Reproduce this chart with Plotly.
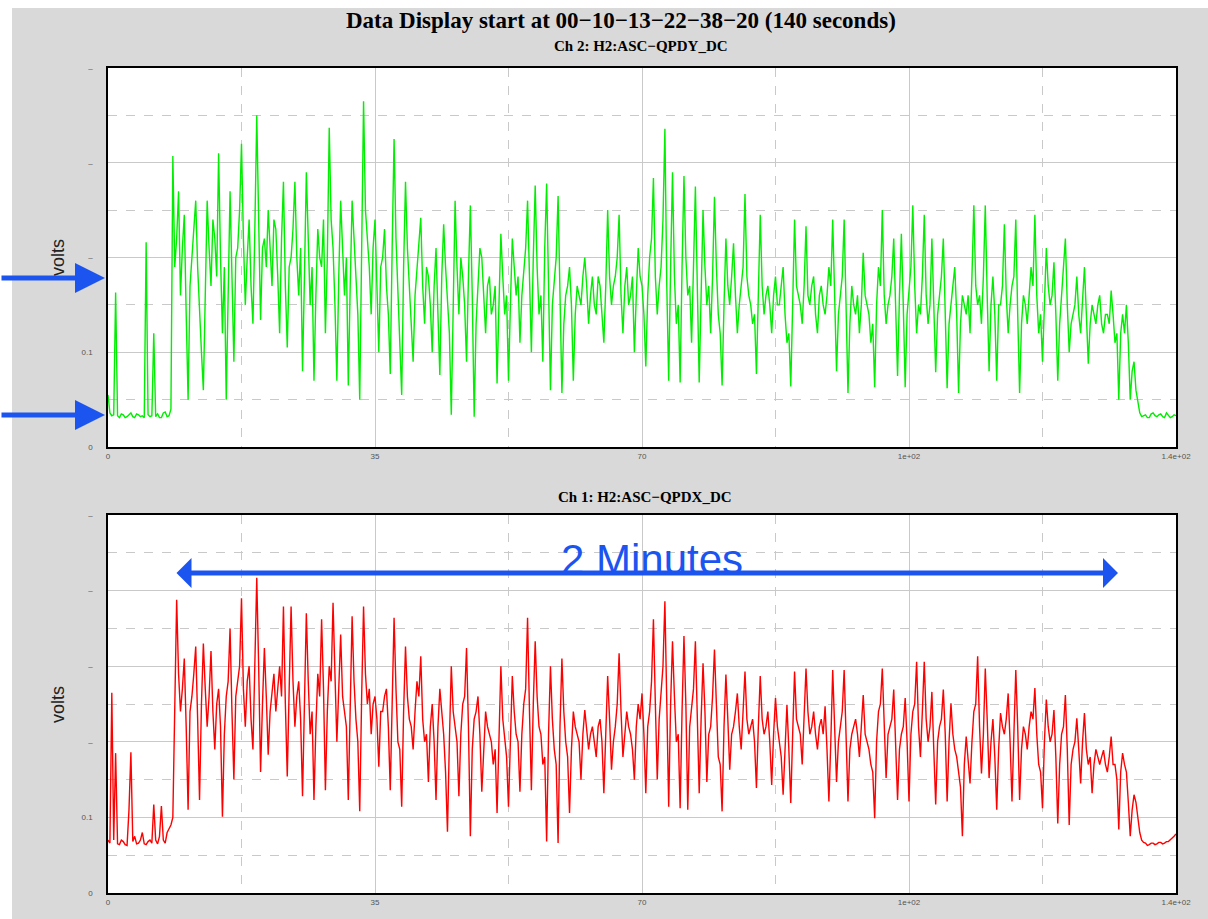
import plotly.graph_objects as go

# ---------------- data ----------------
SAMPLE_STEP_S = 0.25

ch2_qpdy_volts = [
    0.055, 0.036, 0.033, 0.034, 0.163, 0.033, 0.031, 0.035, 0.034, 0.031, 0.032, 0.034, 0.036, 0.032, 0.031, 0.035, 0.034, 0.032, 0.033, 0.031,
    0.216, 0.034, 0.032, 0.033, 0.120, 0.032, 0.035, 0.031, 0.031, 0.036, 0.037, 0.032, 0.033, 0.040, 0.307, 0.19, 0.22, 0.27, 0.16, 0.21,
    0.245, 0.14, 0.05, 0.17, 0.20, 0.23, 0.26, 0.19, 0.14, 0.10, 0.06, 0.18, 0.26, 0.21, 0.17, 0.24, 0.22, 0.18, 0.31, 0.20,
    0.12, 0.19, 0.05, 0.16, 0.27, 0.18, 0.09, 0.20, 0.21, 0.25, 0.32, 0.22, 0.15, 0.20, 0.24, 0.17, 0.13, 0.23, 0.35, 0.24,
    0.134, 0.21, 0.22, 0.19, 0.25, 0.21, 0.17, 0.24, 0.23, 0.18, 0.12, 0.22, 0.28, 0.17, 0.105, 0.19, 0.20, 0.23, 0.28, 0.20,
    0.16, 0.21, 0.08, 0.18, 0.29, 0.22, 0.15, 0.19, 0.07, 0.16, 0.23, 0.20, 0.19, 0.24, 0.12, 0.20, 0.337, 0.24, 0.21, 0.15,
    0.07, 0.18, 0.26, 0.21, 0.16, 0.20, 0.065, 0.17, 0.26, 0.22, 0.18, 0.14, 0.05, 0.20, 0.365, 0.25, 0.22, 0.19, 0.14, 0.21,
    0.24, 0.18, 0.10, 0.19, 0.20, 0.23, 0.17, 0.14, 0.077, 0.21, 0.325, 0.22, 0.16, 0.12, 0.055, 0.19, 0.28, 0.21, 0.17, 0.14,
    0.09, 0.16, 0.19, 0.21, 0.242, 0.17, 0.13, 0.19, 0.18, 0.15, 0.10, 0.17, 0.21, 0.14, 0.076, 0.18, 0.235, 0.19, 0.15, 0.12,
    0.034, 0.17, 0.26, 0.19, 0.14, 0.20, 0.18, 0.15, 0.09, 0.18, 0.255, 0.16, 0.032, 0.13, 0.17, 0.21, 0.20, 0.16, 0.12, 0.17,
    0.18, 0.14, 0.15, 0.17, 0.067, 0.15, 0.225, 0.18, 0.14, 0.16, 0.07, 0.15, 0.22, 0.19, 0.16, 0.18, 0.11, 0.16, 0.19, 0.21,
    0.26, 0.18, 0.10, 0.20, 0.276, 0.19, 0.14, 0.16, 0.09, 0.21, 0.278, 0.17, 0.06, 0.15, 0.18, 0.20, 0.265, 0.16, 0.057, 0.13,
    0.16, 0.17, 0.19, 0.15, 0.07, 0.14, 0.17, 0.16, 0.15, 0.18, 0.20, 0.17, 0.13, 0.16, 0.18, 0.15, 0.14, 0.18, 0.17, 0.14,
    0.11, 0.17, 0.25, 0.18, 0.15, 0.17, 0.18, 0.20, 0.245, 0.16, 0.12, 0.17, 0.19, 0.15, 0.16, 0.18, 0.10, 0.16, 0.21, 0.18,
    0.17, 0.14, 0.085, 0.16, 0.20, 0.22, 0.284, 0.18, 0.14, 0.17, 0.19, 0.24, 0.336, 0.17, 0.07, 0.19, 0.29, 0.18, 0.13, 0.15,
    0.068, 0.19, 0.286, 0.20, 0.16, 0.17, 0.11, 0.19, 0.275, 0.17, 0.068, 0.16, 0.25, 0.19, 0.15, 0.17, 0.12, 0.18, 0.264, 0.19,
    0.14, 0.12, 0.065, 0.15, 0.22, 0.17, 0.15, 0.18, 0.215, 0.16, 0.12, 0.15, 0.17, 0.19, 0.267, 0.18, 0.16, 0.15, 0.13, 0.14,
    0.077, 0.16, 0.245, 0.17, 0.14, 0.16, 0.17, 0.15, 0.12, 0.16, 0.18, 0.15, 0.15, 0.17, 0.19, 0.14, 0.11, 0.12, 0.064, 0.15,
    0.24, 0.17, 0.16, 0.15, 0.13, 0.17, 0.233, 0.16, 0.15, 0.17, 0.18, 0.14, 0.12, 0.16, 0.17, 0.15, 0.14, 0.16, 0.19, 0.17,
    0.24, 0.15, 0.08, 0.14, 0.16, 0.18, 0.24, 0.15, 0.057, 0.13, 0.17, 0.15, 0.14, 0.16, 0.12, 0.15, 0.205, 0.16, 0.15, 0.14,
    0.11, 0.13, 0.063, 0.15, 0.19, 0.17, 0.25, 0.16, 0.13, 0.15, 0.16, 0.18, 0.22, 0.14, 0.075, 0.16, 0.225, 0.15, 0.063, 0.14,
    0.17, 0.19, 0.255, 0.17, 0.12, 0.15, 0.14, 0.18, 0.245, 0.16, 0.13, 0.15, 0.22, 0.16, 0.079, 0.14, 0.16, 0.18, 0.22, 0.15,
    0.062, 0.13, 0.15, 0.17, 0.19, 0.14, 0.057, 0.13, 0.16, 0.15, 0.14, 0.16, 0.12, 0.18, 0.255, 0.17, 0.15, 0.16, 0.13, 0.18,
    0.255, 0.16, 0.08, 0.15, 0.18, 0.14, 0.07, 0.15, 0.15, 0.17, 0.235, 0.16, 0.12, 0.15, 0.17, 0.18, 0.24, 0.14, 0.057, 0.13,
    0.16, 0.15, 0.13, 0.16, 0.19, 0.17, 0.245, 0.16, 0.12, 0.14, 0.09, 0.15, 0.21, 0.17, 0.15, 0.16, 0.195, 0.14, 0.07, 0.13,
    0.16, 0.18, 0.22, 0.15, 0.10, 0.13, 0.14, 0.15, 0.18, 0.14, 0.12, 0.15, 0.19, 0.14, 0.088, 0.13, 0.15, 0.14, 0.13, 0.15,
    0.16, 0.13, 0.12, 0.14, 0.14, 0.13, 0.165, 0.14, 0.11, 0.12, 0.05, 0.12, 0.14, 0.12, 0.15, 0.11, 0.05, 0.08, 0.09, 0.06,
    0.048, 0.036, 0.032, 0.033, 0.034, 0.031, 0.031, 0.035, 0.036, 0.033, 0.032, 0.034, 0.035, 0.032, 0.031, 0.036, 0.034, 0.031, 0.032, 0.034,
    0.033,
]

ch1_qpdx_volts = [
    0.07, 0.066, 0.265, 0.07, 0.185, 0.065, 0.064, 0.07, 0.068, 0.064, 0.063, 0.11, 0.186, 0.068, 0.075, 0.065, 0.066, 0.07, 0.08, 0.065,
    0.064, 0.068, 0.07, 0.066, 0.117, 0.07, 0.065, 0.075, 0.115, 0.07, 0.066, 0.08, 0.085, 0.09, 0.10, 0.25, 0.388, 0.29, 0.24, 0.27,
    0.31, 0.22, 0.11, 0.24, 0.26, 0.29, 0.326, 0.23, 0.123, 0.25, 0.33, 0.27, 0.22, 0.26, 0.32, 0.24, 0.19, 0.25, 0.27, 0.22,
    0.101, 0.21, 0.26, 0.28, 0.35, 0.24, 0.15, 0.26, 0.28, 0.30, 0.39, 0.27, 0.22, 0.28, 0.30, 0.23, 0.19, 0.29, 0.417, 0.30,
    0.16, 0.25, 0.324, 0.26, 0.183, 0.24, 0.27, 0.29, 0.24, 0.27, 0.30, 0.26, 0.379, 0.25, 0.154, 0.27, 0.379, 0.28, 0.22, 0.26,
    0.28, 0.23, 0.128, 0.25, 0.37, 0.28, 0.21, 0.24, 0.123, 0.22, 0.29, 0.26, 0.362, 0.27, 0.136, 0.24, 0.30, 0.28, 0.384, 0.29,
    0.20, 0.27, 0.342, 0.26, 0.24, 0.22, 0.123, 0.25, 0.366, 0.28, 0.23, 0.20, 0.108, 0.26, 0.379, 0.29, 0.25, 0.27, 0.21, 0.25,
    0.26, 0.23, 0.167, 0.24, 0.24, 0.26, 0.27, 0.22, 0.136, 0.25, 0.364, 0.27, 0.20, 0.19, 0.114, 0.24, 0.326, 0.26, 0.23, 0.22,
    0.19, 0.24, 0.28, 0.26, 0.313, 0.23, 0.20, 0.21, 0.147, 0.22, 0.25, 0.20, 0.123, 0.22, 0.27, 0.24, 0.21, 0.16, 0.081, 0.20,
    0.30, 0.24, 0.22, 0.20, 0.128, 0.21, 0.25, 0.26, 0.324, 0.22, 0.075, 0.19, 0.23, 0.24, 0.26, 0.21, 0.134, 0.20, 0.24, 0.22,
    0.21, 0.20, 0.17, 0.19, 0.106, 0.21, 0.30, 0.23, 0.20, 0.18, 0.114, 0.22, 0.287, 0.24, 0.21, 0.20, 0.134, 0.21, 0.25, 0.27,
    0.364, 0.24, 0.136, 0.25, 0.333, 0.26, 0.22, 0.21, 0.17, 0.18, 0.068, 0.21, 0.30, 0.23, 0.19, 0.17, 0.066, 0.22, 0.31, 0.24,
    0.20, 0.18, 0.106, 0.19, 0.24, 0.22, 0.21, 0.20, 0.15, 0.21, 0.242, 0.22, 0.19, 0.21, 0.22, 0.20, 0.18, 0.22, 0.23, 0.20,
    0.132, 0.21, 0.287, 0.23, 0.163, 0.20, 0.22, 0.25, 0.317, 0.24, 0.18, 0.21, 0.24, 0.22, 0.21, 0.19, 0.15, 0.22, 0.25, 0.23,
    0.264, 0.21, 0.132, 0.22, 0.24, 0.28, 0.362, 0.25, 0.15, 0.23, 0.27, 0.30, 0.386, 0.24, 0.114, 0.25, 0.333, 0.26, 0.20, 0.21,
    0.112, 0.24, 0.34, 0.25, 0.11, 0.22, 0.25, 0.27, 0.333, 0.24, 0.132, 0.23, 0.304, 0.24, 0.147, 0.21, 0.22, 0.26, 0.322, 0.25,
    0.18, 0.17, 0.108, 0.22, 0.289, 0.23, 0.163, 0.21, 0.22, 0.24, 0.264, 0.22, 0.19, 0.24, 0.293, 0.23, 0.21, 0.22, 0.23, 0.20,
    0.139, 0.22, 0.287, 0.23, 0.21, 0.22, 0.24, 0.20, 0.143, 0.21, 0.258, 0.22, 0.20, 0.18, 0.13, 0.20, 0.249, 0.19, 0.119, 0.21,
    0.293, 0.23, 0.22, 0.21, 0.17, 0.23, 0.297, 0.24, 0.21, 0.22, 0.24, 0.21, 0.19, 0.22, 0.23, 0.21, 0.247, 0.19, 0.121, 0.20,
    0.295, 0.22, 0.147, 0.20, 0.22, 0.24, 0.295, 0.21, 0.121, 0.19, 0.21, 0.22, 0.23, 0.21, 0.18, 0.22, 0.262, 0.21, 0.20, 0.19,
    0.17, 0.16, 0.099, 0.20, 0.24, 0.25, 0.297, 0.22, 0.152, 0.21, 0.22, 0.23, 0.269, 0.20, 0.123, 0.19, 0.21, 0.22, 0.258, 0.20,
    0.121, 0.21, 0.24, 0.25, 0.306, 0.22, 0.18, 0.24, 0.306, 0.23, 0.20, 0.22, 0.266, 0.19, 0.117, 0.20, 0.22, 0.23, 0.269, 0.21,
    0.121, 0.20, 0.251, 0.21, 0.19, 0.18, 0.16, 0.14, 0.075, 0.17, 0.207, 0.18, 0.145, 0.20, 0.24, 0.25, 0.313, 0.22, 0.158, 0.21,
    0.297, 0.23, 0.152, 0.20, 0.23, 0.18, 0.11, 0.19, 0.238, 0.22, 0.21, 0.23, 0.264, 0.20, 0.121, 0.21, 0.295, 0.22, 0.123, 0.19,
    0.22, 0.21, 0.19, 0.22, 0.24, 0.23, 0.271, 0.21, 0.17, 0.16, 0.112, 0.20, 0.256, 0.22, 0.20, 0.21, 0.242, 0.18, 0.092, 0.17,
    0.21, 0.22, 0.262, 0.19, 0.09, 0.17, 0.19, 0.20, 0.231, 0.19, 0.145, 0.20, 0.238, 0.19, 0.17, 0.18, 0.132, 0.17, 0.19, 0.18,
    0.17, 0.18, 0.189, 0.17, 0.16, 0.18, 0.207, 0.17, 0.17, 0.15, 0.084, 0.16, 0.185, 0.17, 0.16, 0.12, 0.075, 0.11, 0.13, 0.12,
    0.10, 0.08, 0.07, 0.067, 0.066, 0.063, 0.064, 0.066, 0.066, 0.064, 0.065, 0.067, 0.067, 0.065, 0.066, 0.068, 0.068, 0.07, 0.072, 0.075,
    0.078,
]

x_tick_values = [0, 35, 70, 105, 140]
x_tick_labels = ["0", "35", "70", "1e+02", "1.4e+02"]
top_y_tick_values = [0, 0.1, 0.2, 0.3, 0.4]
top_y_tick_labels = ["0", "0.1", "\u2013", "\u2013", "\u2013"]
bottom_y_tick_values = [0, 0.1, 0.2, 0.3, 0.4, 0.5]
bottom_y_tick_labels = ["0", "0.1", "\u2013", "\u2013", "\u2013", "\u2013"]

main_title = "Data Display start at 00\u221210\u221213\u221222\u221238\u221220 (140 seconds)"
top_title = "Ch 2: H2:ASC\u2212QPDY_DC"
bottom_title = "Ch 1: H2:ASC\u2212QPDX_DC"
annotation_text = "2 Minutes"

time_top = [i * SAMPLE_STEP_S for i in range(len(ch2_qpdy_volts))]
time_bottom = [i * SAMPLE_STEP_S for i in range(len(ch1_qpdx_volts))]

# ---------------- layout helpers ----------------
W, H = 1208, 919
def px(x):
    return x / W
def py(y):
    return 1 - y / H

GREY = "#d9d9d9"
BLUE = "rgb(28,84,240)"
GRID = "#c9c9c9"

fig = go.Figure()
fig.add_trace(go.Scatter(x=time_top, y=ch2_qpdy_volts, mode="lines",
                         line=dict(color="#00ee00", width=1.4),
                         xaxis="x", yaxis="y", showlegend=False))
fig.add_trace(go.Scatter(x=time_bottom, y=ch1_qpdx_volts, mode="lines",
                         line=dict(color="#ff0000", width=1.4),
                         xaxis="x2", yaxis="y2", showlegend=False))

def xaxis_style(domain, anchor):
    return dict(domain=domain, anchor=anchor, range=[0, 140], automargin=False,
                tickmode="array", tickvals=x_tick_values, ticktext=x_tick_labels,
                tickfont=dict(family="Liberation Sans", size=8, color="#555"),
                ticks="", showgrid=True, gridcolor=GRID, gridwidth=1,
                minor=dict(tickmode="linear", tick0=0, dtick=17.5, showgrid=True,
                           gridcolor=GRID, griddash="dash", gridwidth=1, ticks=""),
                showline=True, linecolor="black", linewidth=2, mirror=True,
                zeroline=False, fixedrange=True)

def yaxis_style(domain, anchor, rng, vals, labels):
    return dict(domain=domain, anchor=anchor, range=rng, automargin=False,
                tickmode="array", tickvals=vals, ticktext=labels,
                tickfont=dict(family="Liberation Sans", size=8, color="#555"),
                ticks="", ticklabelstandoff=12, showgrid=True, gridcolor=GRID,
                gridwidth=1,
                minor=dict(tickmode="linear", tick0=0, dtick=0.05, showgrid=True,
                           gridcolor=GRID, griddash="dash", gridwidth=1, ticks=""),
                showline=True, linecolor="black", linewidth=1.5, mirror=True,
                zeroline=False, fixedrange=True)

xdom = [px(108), px(1176)]
fig.update_layout(
    autosize=True,
    margin=dict(l=0, r=0, t=0, b=0, pad=0, autoexpand=False),
    paper_bgcolor=GREY, plot_bgcolor="white",
    xaxis=xaxis_style(xdom, "y"),
    yaxis=yaxis_style([py(447), py(68)], "x", [0, 0.4], top_y_tick_values, top_y_tick_labels),
    xaxis2=xaxis_style(xdom, "y2"),
    yaxis2=yaxis_style([py(893), py(515)], "x2", [0, 0.5], bottom_y_tick_values, bottom_y_tick_labels),
    shapes=[
        dict(type="rect", xref="paper", yref="paper", x0=0, x1=px(12), y0=0, y1=1,
             fillcolor="white", line=dict(width=0), layer="below"),
        dict(type="rect", xref="paper", yref="paper", x0=0, x1=1, y0=py(8), y1=1,
             fillcolor="white", line=dict(width=0), layer="below"),
    ],
)

ann = []
ann.append(dict(text="<b>" + main_title + "</b>", x=px(621), y=py(20), xref="paper", yref="paper",
                showarrow=False, xanchor="center", yanchor="middle",
                font=dict(family="Liberation Serif", size=23, color="black")))
ann.append(dict(text="<b>" + top_title + "</b>", x=px(641), y=py(46), xref="paper", yref="paper",
                showarrow=False, xanchor="center", yanchor="middle",
                font=dict(family="Liberation Serif", size=15, color="black")))
ann.append(dict(text="<b>" + bottom_title + "</b>", x=px(645), y=py(497), xref="paper", yref="paper",
                showarrow=False, xanchor="center", yanchor="middle",
                font=dict(family="Liberation Serif", size=15, color="black")))
for yc in (258, 705):
    ann.append(dict(text="volts", x=px(58), y=py(yc), xref="paper", yref="paper",
                    showarrow=False, textangle=-90, xanchor="center", yanchor="middle",
                    font=dict(family="Liberation Sans", size=18, color="#222")))
# left pointer arrows
for yc in (278, 415):
    ann.append(dict(text="", x=px(105), y=py(yc), xref="paper", yref="paper",
                    showarrow=True, ax=-105, ay=0, axref="pixel", ayref="pixel",
                    arrowhead=2, arrowsize=1.2, arrowwidth=5, arrowcolor=BLUE, standoff=0))
# double arrow
ann.append(dict(text="", x=px(1118), y=py(573), xref="paper", yref="paper",
                showarrow=True, ax=-943, ay=0, axref="pixel", ayref="pixel",
                arrowside="end+start", arrowhead=1, startarrowhead=1,
                arrowsize=1.0, startarrowsize=1.0, arrowwidth=5,
                arrowcolor=BLUE, standoff=0, startstandoff=0))
ann.append(dict(text=annotation_text, x=px(652), y=py(559), xref="paper", yref="paper",
                showarrow=False, xanchor="center", yanchor="middle",
                font=dict(family="Liberation Sans", size=42, color=BLUE)))
fig.update_layout(annotations=ann)

fig.write_html(
    "out.html",
    default_width="100vw",
    default_height="100vh",
    config={"displayModeBar": False},
    post_script=("document.documentElement.style.margin='0';"
                 "document.body.style.margin='0';"
                 "document.body.style.overflow='hidden';"
                 "var gd=document.getElementById('{plot_id}');"
                 "gd.style.width=window.innerWidth+'px';"
                 "gd.style.height=window.innerHeight+'px';"
                 "Plotly.Plots.resize(gd);"),
)
